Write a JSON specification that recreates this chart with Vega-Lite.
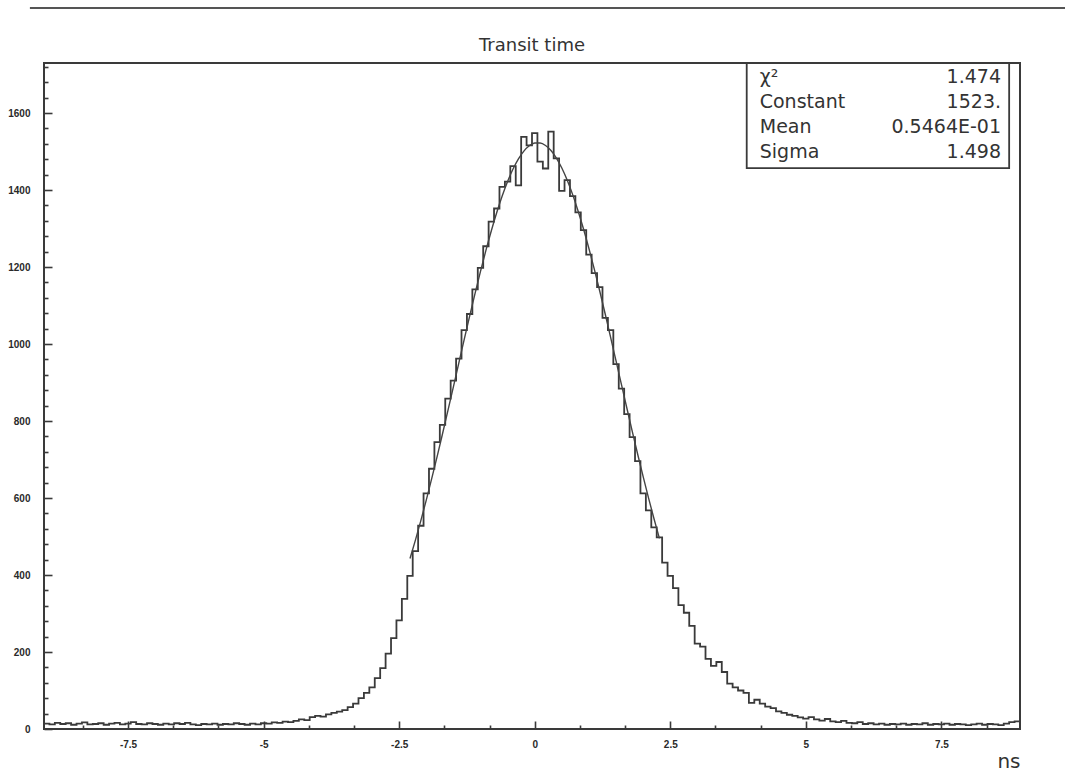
{
  "$schema": "https://vega.github.io/schema/vega-lite/v6.json",
  "width": 976,
  "height": 666,
  "autosize": {"type": "none"},
  "padding": {"left": 44, "top": 63, "right": 45, "bottom": 50},
  "background": "white",
  "title": {"text": "Transit time", "font": "DejaVu Sans", "fontSize": 18, "fontWeight": "normal", "color": "#333333", "anchor": "middle", "frame": "group", "baseline": "alphabetic", "offset": 0, "dy": 62},
  "config": {
    "view": {"stroke": "#3a3a3a", "strokeWidth": 2},
    "axis": {"domain": false, "grid": false, "tickColor": "#3a3a3a", "tickWidth": 1.6, "labelColor": "#2a2a2a", "labelFont": "Liberation Sans", "labelFontWeight": "bold", "labelFontSize": 10, "titleFont": "DejaVu Sans", "titleFontWeight": "normal", "titleColor": "#333333"}
  },
  "datasets": {
    "hist": [
      {"t": -9.05, "n": 14}, {"t": -8.95, "n": 12}, {"t": -8.85, "n": 16}, {"t": -8.75, "n": 13}, {"t": -8.65, "n": 15},
      {"t": -8.55, "n": 11}, {"t": -8.45, "n": 14}, {"t": -8.35, "n": 17}, {"t": -8.25, "n": 12}, {"t": -8.15, "n": 13},
      {"t": -8.05, "n": 15}, {"t": -7.95, "n": 11}, {"t": -7.85, "n": 14}, {"t": -7.75, "n": 16}, {"t": -7.65, "n": 12},
      {"t": -7.55, "n": 14}, {"t": -7.45, "n": 18}, {"t": -7.35, "n": 13}, {"t": -7.25, "n": 12}, {"t": -7.15, "n": 15},
      {"t": -7.05, "n": 13}, {"t": -6.95, "n": 11}, {"t": -6.85, "n": 14}, {"t": -6.75, "n": 12}, {"t": -6.65, "n": 15},
      {"t": -6.55, "n": 13}, {"t": -6.45, "n": 16}, {"t": -6.35, "n": 12}, {"t": -6.25, "n": 10}, {"t": -6.15, "n": 13},
      {"t": -6.05, "n": 12}, {"t": -5.95, "n": 14}, {"t": -5.85, "n": 11}, {"t": -5.75, "n": 13}, {"t": -5.65, "n": 12},
      {"t": -5.55, "n": 15}, {"t": -5.45, "n": 13}, {"t": -5.35, "n": 11}, {"t": -5.25, "n": 14}, {"t": -5.15, "n": 12},
      {"t": -5.05, "n": 15}, {"t": -4.95, "n": 14}, {"t": -4.85, "n": 17}, {"t": -4.75, "n": 16}, {"t": -4.65, "n": 19},
      {"t": -4.55, "n": 18}, {"t": -4.45, "n": 21}, {"t": -4.35, "n": 25}, {"t": -4.25, "n": 23}, {"t": -4.15, "n": 31},
      {"t": -4.05, "n": 34}, {"t": -3.95, "n": 32}, {"t": -3.85, "n": 38}, {"t": -3.75, "n": 42}, {"t": -3.65, "n": 45},
      {"t": -3.55, "n": 49}, {"t": -3.45, "n": 57}, {"t": -3.35, "n": 66}, {"t": -3.25, "n": 80}, {"t": -3.15, "n": 94},
      {"t": -3.05, "n": 108}, {"t": -2.95, "n": 132}, {"t": -2.85, "n": 158}, {"t": -2.75, "n": 196}, {"t": -2.65, "n": 236},
      {"t": -2.55, "n": 282}, {"t": -2.45, "n": 338}, {"t": -2.35, "n": 398}, {"t": -2.25, "n": 462}, {"t": -2.15, "n": 528},
      {"t": -2.05, "n": 612}, {"t": -1.95, "n": 676}, {"t": -1.85, "n": 745}, {"t": -1.75, "n": 790}, {"t": -1.65, "n": 858},
      {"t": -1.55, "n": 905}, {"t": -1.45, "n": 962}, {"t": -1.35, "n": 1036}, {"t": -1.25, "n": 1078}, {"t": -1.15, "n": 1142},
      {"t": -1.05, "n": 1198}, {"t": -0.95, "n": 1254}, {"t": -0.85, "n": 1318}, {"t": -0.75, "n": 1352}, {"t": -0.65, "n": 1408},
      {"t": -0.55, "n": 1422}, {"t": -0.45, "n": 1462}, {"t": -0.35, "n": 1412}, {"t": -0.25, "n": 1538}, {"t": -0.15, "n": 1516},
      {"t": -0.05, "n": 1548}, {"t": 0.05, "n": 1474}, {"t": 0.15, "n": 1456}, {"t": 0.25, "n": 1552}, {"t": 0.35, "n": 1482},
      {"t": 0.45, "n": 1398}, {"t": 0.55, "n": 1426}, {"t": 0.65, "n": 1384}, {"t": 0.75, "n": 1342}, {"t": 0.85, "n": 1296},
      {"t": 0.95, "n": 1232}, {"t": 1.05, "n": 1184}, {"t": 1.15, "n": 1148}, {"t": 1.25, "n": 1068}, {"t": 1.35, "n": 1036},
      {"t": 1.45, "n": 948}, {"t": 1.55, "n": 884}, {"t": 1.65, "n": 818}, {"t": 1.75, "n": 758}, {"t": 1.85, "n": 696},
      {"t": 1.95, "n": 612}, {"t": 2.05, "n": 568}, {"t": 2.15, "n": 524}, {"t": 2.25, "n": 498}, {"t": 2.35, "n": 432},
      {"t": 2.45, "n": 398}, {"t": 2.55, "n": 366}, {"t": 2.65, "n": 322}, {"t": 2.75, "n": 302}, {"t": 2.85, "n": 268},
      {"t": 2.95, "n": 222}, {"t": 3.05, "n": 214}, {"t": 3.15, "n": 182}, {"t": 3.25, "n": 164}, {"t": 3.35, "n": 174},
      {"t": 3.45, "n": 148}, {"t": 3.55, "n": 118}, {"t": 3.65, "n": 108}, {"t": 3.75, "n": 100}, {"t": 3.85, "n": 94},
      {"t": 3.95, "n": 68}, {"t": 4.05, "n": 76}, {"t": 4.15, "n": 66}, {"t": 4.25, "n": 58}, {"t": 4.35, "n": 54},
      {"t": 4.45, "n": 46}, {"t": 4.55, "n": 42}, {"t": 4.65, "n": 37}, {"t": 4.75, "n": 34}, {"t": 4.85, "n": 30},
      {"t": 4.95, "n": 27}, {"t": 5.05, "n": 31}, {"t": 5.15, "n": 25}, {"t": 5.25, "n": 22}, {"t": 5.35, "n": 26},
      {"t": 5.45, "n": 20}, {"t": 5.55, "n": 18}, {"t": 5.65, "n": 21}, {"t": 5.75, "n": 16}, {"t": 5.85, "n": 15},
      {"t": 5.95, "n": 18}, {"t": 6.05, "n": 13}, {"t": 6.15, "n": 15}, {"t": 6.25, "n": 12}, {"t": 6.35, "n": 14},
      {"t": 6.45, "n": 11}, {"t": 6.55, "n": 13}, {"t": 6.65, "n": 12}, {"t": 6.75, "n": 14}, {"t": 6.85, "n": 11},
      {"t": 6.95, "n": 13}, {"t": 7.05, "n": 12}, {"t": 7.15, "n": 15}, {"t": 7.25, "n": 11}, {"t": 7.35, "n": 13},
      {"t": 7.45, "n": 12}, {"t": 7.55, "n": 14}, {"t": 7.65, "n": 11}, {"t": 7.75, "n": 13}, {"t": 7.85, "n": 12},
      {"t": 7.95, "n": 10}, {"t": 8.05, "n": 12}, {"t": 8.15, "n": 14}, {"t": 8.25, "n": 11}, {"t": 8.35, "n": 13},
      {"t": 8.45, "n": 12}, {"t": 8.55, "n": 10}, {"t": 8.65, "n": 14}, {"t": 8.75, "n": 18}, {"t": 8.85, "n": 20},
      {"t": 8.95, "n": 20}
    ],
    "fit": [
      {"t": -2.3, "n": 442.8}, {"t": -2.2, "n": 490.7}, {"t": -2.1, "n": 541.3}, {"t": -2.0, "n": 594.6}, {"t": -1.9, "n": 650.2},
      {"t": -1.8, "n": 707.7}, {"t": -1.7, "n": 767.0}, {"t": -1.6, "n": 827.6}, {"t": -1.5, "n": 888.8}, {"t": -1.4, "n": 950.5},
      {"t": -1.3, "n": 1011.9}, {"t": -1.2, "n": 1072.5}, {"t": -1.1, "n": 1131.6}, {"t": -1.0, "n": 1188.7}, {"t": -0.9, "n": 1243.1},
      {"t": -0.8, "n": 1294.3}, {"t": -0.7, "n": 1341.5}, {"t": -0.6, "n": 1384.3}, {"t": -0.5, "n": 1422.2}, {"t": -0.4, "n": 1454.5},
      {"t": -0.3, "n": 1481.0}, {"t": -0.2, "n": 1501.2}, {"t": -0.1, "n": 1514.9}, {"t": 0.0, "n": 1522.0}, {"t": 0.1, "n": 1522.3},
      {"t": 0.2, "n": 1515.8}, {"t": 0.3, "n": 1502.7}, {"t": 0.4, "n": 1483.1}, {"t": 0.5, "n": 1457.2}, {"t": 0.6, "n": 1425.4},
      {"t": 0.7, "n": 1388.1}, {"t": 0.8, "n": 1345.7}, {"t": 0.9, "n": 1298.8}, {"t": 1.0, "n": 1248.0}, {"t": 1.1, "n": 1193.9},
      {"t": 1.2, "n": 1137.1}, {"t": 1.3, "n": 1078.0}, {"t": 1.4, "n": 1017.5}, {"t": 1.5, "n": 956.1}, {"t": 1.6, "n": 894.5},
      {"t": 1.7, "n": 833.1}, {"t": 1.8, "n": 772.5}, {"t": 1.9, "n": 713.1}, {"t": 2.0, "n": 655.4}, {"t": 2.1, "n": 599.6},
      {"t": 2.2, "n": 546.1}, {"t": 2.3, "n": 495.3}
    ],
    "stats": [
      {"param": "χ²", "value": "1.474"},
      {"param": "Constant", "value": "1523."},
      {"param": "Mean", "value": "0.5464E-01"},
      {"param": "Sigma", "value": "1.498"}
    ]
  },
  "resolve": {"axis": {"x": "independent", "y": "independent"}},
  "layer": [
    {
      "data": {"name": "hist"},
      "mark": {"type": "line", "interpolate": "step-after", "color": "#3a3a3a", "strokeWidth": 1.8, "clip": true},
      "encoding": {
        "x": {"field": "t", "type": "quantitative", "scale": {"domain": [-9.05, 8.95], "nice": false, "zero": false},
              "axis": {"orient": "bottom", "values": [-7.5, -5, -2.5, 0, 2.5, 5, 7.5], "labelExpr": "'' + datum.value", "tickSize": -8, "labelPadding": 18, "labelFlush": false, "labelOverlap": false,
                       "title": "ns", "titleFontSize": 20, "titleAnchor": "end", "titleAlign": "right", "titlePadding": 2}},
        "y": {"field": "n", "type": "quantitative", "scale": {"domain": [0, 1730], "nice": false, "zero": true},
              "axis": {"orient": "left", "values": [0, 200, 400, 600, 800, 1000, 1200, 1400, 1600], "format": "d", "tickSize": -8, "labelPadding": 22, "labelFlush": false, "labelOverlap": false, "labelBaseline": "middle", "title": null}}
      }
    },
    {
      "data": {"name": "fit"},
      "mark": {"type": "line", "interpolate": "monotone", "color": "#444444", "strokeWidth": 1.4, "clip": true},
      "encoding": {
        "x": {"field": "t", "type": "quantitative",
              "axis": {"orient": "bottom", "values": [-8.3333, -6.6667, -5.8333, -4.1667, -3.3333, -1.6667, -0.8333, 0.8333, 1.6667, 3.3333, 4.1667, 5.8333, 6.6667, 8.3333], "tickSize": -4, "labels": false, "title": null}},
        "y": {"field": "n", "type": "quantitative",
              "axis": {"orient": "left", "values": [40, 80, 120, 160, 240, 280, 320, 360, 440, 480, 520, 560, 640, 680, 720, 760, 840, 880, 920, 960, 1040, 1080, 1120, 1160, 1240, 1280, 1320, 1360, 1440, 1480, 1520, 1560, 1640, 1680, 1720], "tickSize": -4, "labels": false, "title": null}}
      }
    },
    {
      "data": {"values": [{}]},
      "mark": {"type": "rect", "fill": "white", "stroke": "#3a3a3a", "strokeWidth": 1.8},
      "encoding": {
        "x": {"datum": 3.91, "type": "quantitative", "axis": null},
        "x2": {"datum": 8.75},
        "y": {"datum": 1457, "type": "quantitative", "axis": null},
        "y2": {"datum": 1730}
      }
    },
    {
      "data": {"name": "stats"},
      "mark": {"type": "text", "align": "left", "baseline": "middle", "font": "DejaVu Sans", "fontSize": 19, "color": "#333333"},
      "encoding": {
        "x": {"datum": 4.15, "type": "quantitative", "axis": null},
        "y": {"datum": 1693, "type": "quantitative", "axis": null},
        "yOffset": {"field": "param", "type": "nominal", "scale": {"type": "point", "domain": ["χ²", "Constant", "Mean", "Sigma"], "range": [0, 75], "padding": 0}},
        "text": {"field": "param", "type": "nominal"}
      }
    },
    {
      "data": {"name": "stats"},
      "mark": {"type": "text", "align": "right", "baseline": "middle", "font": "DejaVu Sans", "fontSize": 19, "color": "#333333"},
      "encoding": {
        "x": {"datum": 8.6, "type": "quantitative", "axis": null},
        "y": {"datum": 1693, "type": "quantitative", "axis": null},
        "yOffset": {"field": "param", "type": "nominal", "scale": {"type": "point", "domain": ["χ²", "Constant", "Mean", "Sigma"], "range": [0, 75], "padding": 0}},
        "text": {"field": "value", "type": "nominal"}
      }
    },
    {
      "data": {"values": [{}]},
      "mark": {"type": "rule", "color": "#555555", "strokeWidth": 2, "clip": false},
      "encoding": {
        "x": {"datum": -9.31, "type": "quantitative", "axis": null},
        "x2": {"datum": 9.78},
        "y": {"datum": 1873, "type": "quantitative", "axis": null}
      }
    }
  ]
}
